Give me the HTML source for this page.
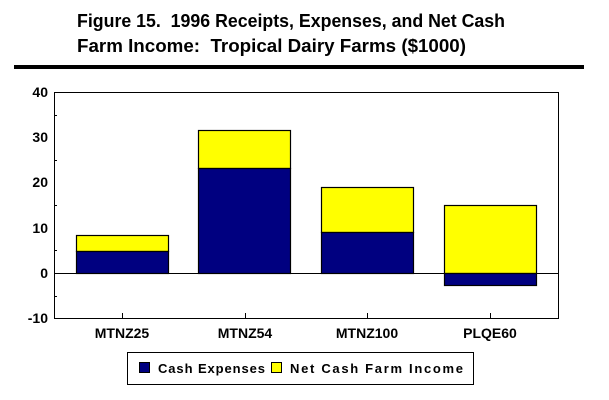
<!DOCTYPE html>
<html><head><meta charset="utf-8"><style>body{margin:0;background:#fff}svg{display:block}</style></head>
<body>
<svg width="609" height="400" xmlns="http://www.w3.org/2000/svg" font-family="Liberation Sans, Arial, sans-serif" font-weight="bold">
<rect width="609" height="400" fill="#fff"/>
<text x="77" y="27" font-size="18" textLength="428" lengthAdjust="spacingAndGlyphs">Figure 15.&#160; 1996 Receipts, Expenses, and Net Cash</text>
<text x="77" y="52" font-size="18" textLength="389" lengthAdjust="spacingAndGlyphs">Farm Income:&#160; Tropical Dairy Farms ($1000)</text>
<rect x="14" y="65" width="570" height="4" fill="#000"/>
<g stroke="#000" stroke-width="1.2">
<rect x="76.5" y="235.5" width="92" height="16" fill="#ffff00"/>
<rect x="76.5" y="251.5" width="92" height="22" fill="#000080"/>
<rect x="198.5" y="130.5" width="92" height="38" fill="#ffff00"/>
<rect x="198.5" y="168.5" width="92" height="105" fill="#000080"/>
<rect x="321.5" y="187.5" width="92" height="45" fill="#ffff00"/>
<rect x="321.5" y="232.5" width="92" height="41" fill="#000080"/>
<rect x="444.5" y="205.5" width="92" height="68" fill="#ffff00"/>
<rect x="444.5" y="273.5" width="92" height="12" fill="#000080"/>
</g>
<g stroke="#000" stroke-width="1" fill="none">
<rect x="54.5" y="92.5" width="504" height="226"/>
<line x1="54" y1="273.5" x2="559" y2="273.5"/>
<line x1="54" y1="115.5" x2="57" y2="115.5"/><line x1="54" y1="160.5" x2="57" y2="160.5"/>
<line x1="54" y1="205.5" x2="57" y2="205.5"/><line x1="54" y1="250.5" x2="57" y2="250.5"/>
<line x1="54" y1="296.5" x2="57" y2="296.5"/>
<line x1="122.5" y1="313" x2="122.5" y2="318"/><line x1="245.5" y1="313" x2="245.5" y2="318"/>
<line x1="367.5" y1="313" x2="367.5" y2="318"/><line x1="490.5" y1="313" x2="490.5" y2="318"/>
<rect x="127.5" y="352.5" width="346" height="32"/>
</g>
<g font-size="14" text-anchor="end">
<text x="48" y="97">40</text><text x="48" y="142">30</text><text x="48" y="187">20</text>
<text x="48" y="233">10</text><text x="48" y="278">0</text><text x="48" y="323">-10</text>
</g>
<g font-size="14" text-anchor="middle">
<text x="122" y="338">MTNZ25</text><text x="245" y="338">MTNZ54</text>
<text x="367" y="338">MTNZ100</text><text x="490" y="338">PLQE60</text>
</g>
<rect x="139.5" y="362.5" width="10" height="10" fill="#000080" stroke="#000"/>
<rect x="271.5" y="362.5" width="10" height="10" fill="#ffff00" stroke="#000"/>
<text x="158" y="373" font-size="13" textLength="107" lengthAdjust="spacing">Cash Expenses</text>
<text x="290" y="373" font-size="13" textLength="173" lengthAdjust="spacing">Net Cash Farm Income</text>
</svg>
</body></html>
